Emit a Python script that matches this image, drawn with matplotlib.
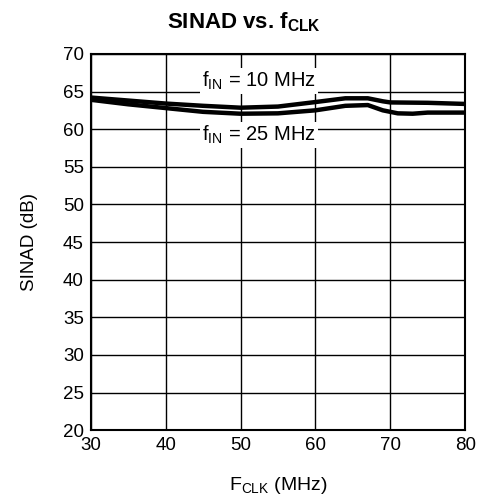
import matplotlib
matplotlib.use("Agg")
import matplotlib.pyplot as plt

plt.rcParams['font.family'] = ['Liberation Sans', 'DejaVu Sans']
plt.rcParams['mathtext.fontset'] = 'custom'
plt.rcParams['mathtext.rm'] = 'Liberation Sans'
plt.rcParams['mathtext.bf'] = 'Liberation Sans:bold'

# data
fclk_10 = [30, 35, 40, 45, 50, 55, 60, 64, 67, 69, 70, 75, 80]
sinad_10 = [64.2, 63.8, 63.4, 63.1, 62.85, 63.0, 63.6, 64.1, 64.1, 63.7, 63.55, 63.5, 63.35]
fclk_25 = [30, 35, 40, 45, 50, 55, 60, 64, 67, 69, 71, 73, 75, 80]
sinad_25 = [63.9, 63.3, 62.8, 62.3, 62.05, 62.1, 62.5, 63.1, 63.2, 62.5, 62.1, 62.05, 62.2, 62.2]
xticks = [30, 40, 50, 60, 70, 80]
yticks = [20, 25, 30, 35, 40, 45, 50, 55, 60, 65, 70]

fig = plt.figure(figsize=(4.83, 4.99), dpi=100)
ax = fig.add_axes([0.188, 0.138, 0.775, 0.754])

ax.plot(fclk_10, sinad_10, color='black', lw=3.2, solid_capstyle='butt', zorder=3)
ax.plot(fclk_25, sinad_25, color='black', lw=3.2, solid_capstyle='butt', zorder=3)

box = dict(facecolor='white', edgecolor='none', pad=1.5)
ax.text(52.5, 66.4, r'f$_{\mathrm{IN}}$ = 10 MHz', ha='center', va='center', fontsize=14.5, bbox=box, zorder=4)
ax.text(52.5, 59.2, r'f$_{\mathrm{IN}}$ = 25 MHz', ha='center', va='center', fontsize=14.5, bbox=box, zorder=4)

ax.set_xlim(30, 80)
ax.set_ylim(20, 70)
ax.set_xticks(xticks)
ax.set_yticks(yticks)
ax.tick_params(length=0, labelsize=13.5, pad=5)
ax.grid(True, color='black', lw=1)
for s in ax.spines.values():
    s.set_linewidth(1.5)

ax.set_xlabel(r'F$_{\mathrm{CLK}}$ (MHz)', fontsize=14, labelpad=15)
ax.set_ylabel('SINAD (dB)', fontsize=13.5, labelpad=18)
fig.text(0.505, 0.955, r'SINAD vs. f$_{\mathbf{CLK}}$', ha='center', va='center',
         fontsize=16, fontweight='bold')

fig.savefig('out.png', dpi=100)
